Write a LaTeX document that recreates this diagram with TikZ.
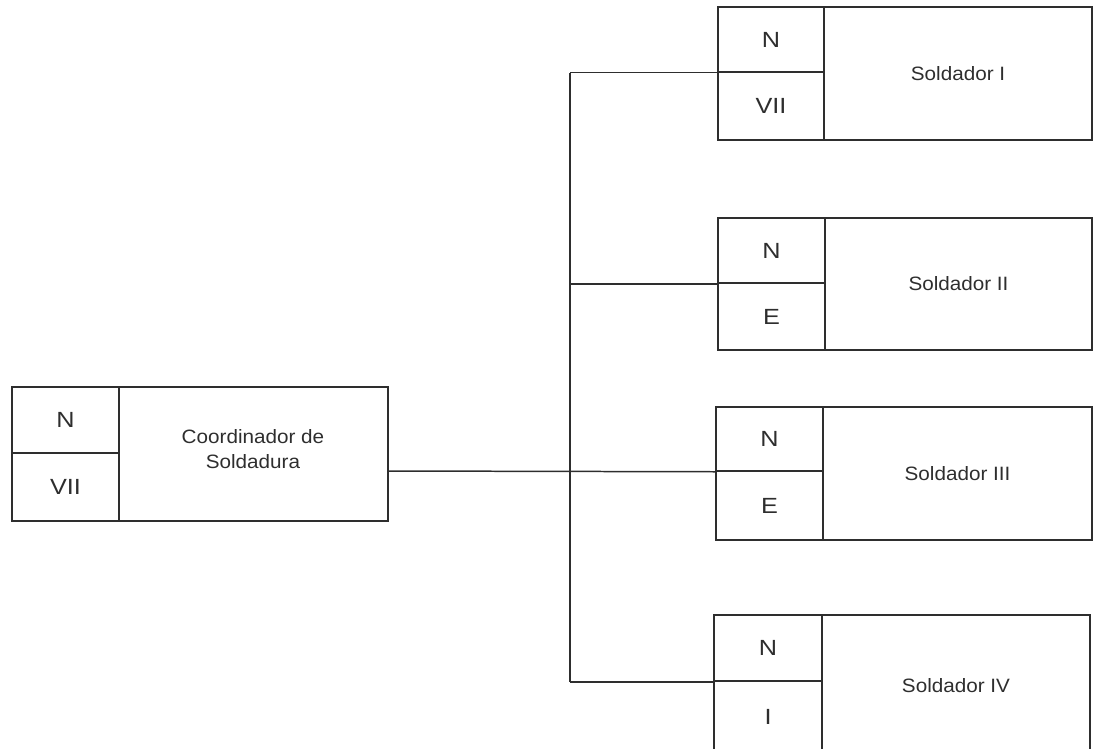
\documentclass[tikz,border=0pt]{standalone}
\usepackage{fontspec}
\setmainfont{Liberation Sans}
\newfontfamily\cellfont{Liberation Sans}[FakeStretch=1.15]
\newfontfamily\boxfont{Liberation Sans}[FakeStretch=1.07]
\usetikzlibrary{fit}
\definecolor{ink}{HTML}{2E2E2E}
\tikzset{
  px/.style={x=0.02cm,y=-0.02cm},
  frame/.style={draw=ink, line width=0.85pt, inner sep=0pt},
  celltext/.style={text=ink, font=\cellfont\fontsize{12.5}{14}\selectfont},
  boxtext/.style={text=ink, align=center, font=\boxfont\fontsize{11}{14.5}\selectfont},
  link/.style={draw=ink, line width=0.85pt}
}
\begin{document}
\begin{tikzpicture}[px]
\useasboundingbox (0,0) rectangle (1095,748);
\clip (0,0) rectangle (1095,748);
% Coordinator
\node[frame, fit={(12,387) (119,453)}, label={[celltext]center:N}] (cn) {};
\node[frame, fit={(12,453) (119,521)}, label={[celltext]center:VII}] (cv) {};
\node[frame, fit={(119,387) (388,521)}] (cm) {};
\node[boxtext] (ct) at (253,449) {Coordinador de\\Soldadura};
% Soldador I
\node[frame, fit={(718,7) (824,72)}, label={[celltext]center:N}] (an) {};
\node[frame, fit={(718,72) (824,140)}, label={[celltext]center:VII}] (av) {};
\node[frame, fit={(824,7) (1092,140)}, label={[boxtext]center:Soldador I}] (am) {};
% Soldador II
\node[frame, fit={(718,218) (825,283)}, label={[celltext]center:N}] (bn) {};
\node[frame, fit={(718,283) (825,350)}, label={[celltext]center:E}] (bv) {};
\node[frame, fit={(825,218) (1092,350)}, label={[boxtext]center:Soldador II}] (bm) {};
% Soldador III
\node[frame, fit={(716,407) (823,471)}, label={[celltext]center:N}] (dn) {};
\node[frame, fit={(716,471) (823,540)}, label={[celltext]center:E}] (dv) {};
\node[frame, fit={(823,407) (1092,540)}, label={[boxtext]center:Soldador III}] (dm) {};
% Soldador IV
\node[frame, fit={(714,615) (822,681)}, label={[celltext]center:N}] (en) {};
\node[frame, fit={(714,681) (822,752)}, label={[celltext]center:I}] (ev) {};
\node[frame, fit={(822,615) (1090,752)}] (em) {};
\node[boxtext] (et) at (956,686) {Soldador IV};
% connectors
\coordinate (j) at (570,471);
\draw[link] (cm.east |- j) -- (dn.south west);
\draw[link] (an.south west -| j) -- (en.south west -| j);
\draw[link] (an.south west -| j) -- (an.south west);
\draw[link] (bn.south west -| j) -- (bn.south west);
\draw[link] (en.south west -| j) -- (en.south west);
\end{tikzpicture}
\end{document}
